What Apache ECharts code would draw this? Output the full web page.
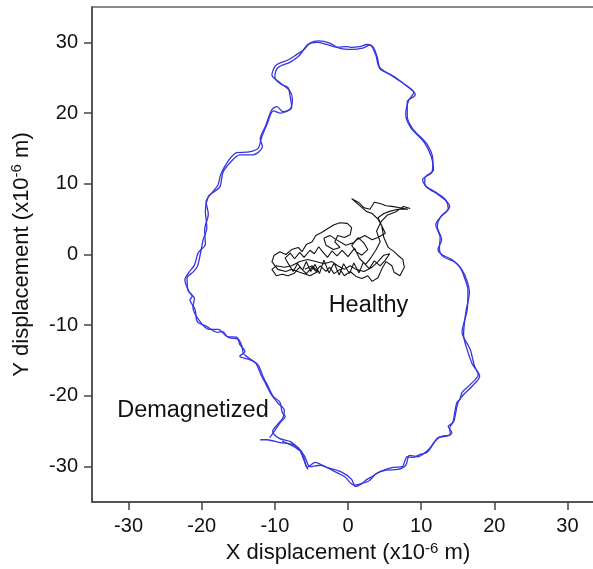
<!DOCTYPE html>
<html>
<head>
<meta charset="utf-8">
<script src="https://cdn.jsdelivr.net/npm/echarts@6/dist/echarts.min.js"></script>
<style>
  html, body { margin: 0; padding: 0; background: #fff; }
  #chart { width: 593px; height: 569px; }
</style>
</head>
<body>
<div id="chart"></div>
<script>
// tick values on both axes
const tickValues = [-30, -20, -10, 0, 10, 20, 30]

// demagnetized trace, first lap (x, y in 1e-6 m)
const demagLap1 = [
  [-12.0,-26.2],[-11.1,-26.2],[-9.3,-26.6],[-7.5,-26.9],[-6.3,-27.9],[-5.9,-29.3],[-5.6,-30.1],[-4.5,-29.4],
  [-2.9,-30.1],[-0.8,-30.8],[0.5,-31.8],[1.0,-32.8],[1.9,-32.4],[2.6,-31.8],[3.3,-31.4],[4.4,-30.7],
  [6.1,-30.1],[7.4,-30.0],[8.1,-28.6],[8.9,-28.7],[9.8,-28.3],[10.8,-28.0],[11.6,-26.9],[12.3,-25.9],
  [13.5,-25.7],[14.2,-25.2],[13.7,-24.3],[14.3,-23.8],[14.6,-22.3],[14.9,-20.9],[15.3,-20.5],[15.6,-19.5],
  [16.7,-18.4],[17.8,-17.0],[17.3,-15.8],[16.7,-13.4],[15.6,-11.0],[16.3,-7.8],[16.4,-5.0],[16.0,-3.5],
  [15.3,-1.8],[14.2,-0.7],[12.8,0],[12.3,0.7],[12.8,2.1],[12.2,4.0],[12.6,5.2],[13.5,6.1],
  [13.9,6.8],[13.5,7.5],[12.3,8.5],[10.8,9.5],[10.2,10.6],[11.5,11.7],[11.6,13.4],[10.8,15.6],
  [8.9,17.7],[8.1,19.5],[8.1,21.6],[9.2,22.6],[8.1,23.8],[6.7,24.8],[5.3,25.7],[4.4,26.2],
  [4.0,27.9],[3.4,29.4],[2.6,29.7],[1.6,29.4],[0.3,29.3],[-0.1,29.4],[-1.5,29.3],[-2.9,29.7],
  [-4.2,30.0],[-5.5,29.7],[-6.3,28.6],[-6.8,28.0],[-7.9,27.2],[-9.6,26.4],[-10.0,25.0],[-9.0,24.0],
  [-8.2,23.6],[-7.9,22.3],[-7.7,20.8],[-8.9,20.2],[-9.7,20.9],[-10.4,20.5],[-11.3,18.1],[-12.0,16.3],
  [-11.7,15.3],[-13.0,14.1],[-14.8,14.1],[-16.1,13.0],[-17.1,11.6],[-17.5,9.6],[-18.4,8.8],[-19.1,8.2],
  [-19.5,6.1],[-19.3,3.8],[-19.8,2.1],[-20.2,0],[-20.6,-1.7],[-21.2,-2.5],[-22.0,-3.3],[-21.9,-5.0],
  [-21.3,-5.9],[-21.6,-6.4],[-20.9,-7.8],[-20.6,-9.5],[-19.3,-10.2],[-17.9,-11.0],[-17.1,-10.9],[-16.5,-11.6],
  [-15.2,-11.7],[-14.8,-12.7],[-14.1,-13.7],[-14.8,-14.4],[-13.4,-14.9],[-12.3,-15.6],[-11.6,-17.3],[-10.9,-18.7],
  [-10.2,-20.1],[-9.3,-20.9],[-9.0,-22.3],[-8.6,-22.9],[-9.3,-23.8],[-10.2,-25.2],[-10.7,-25.9]
]

// demagnetized trace, second lap
const demagLap2 = [
  [-9.0,-26.4],[-7.2,-27.3],[-6.0,-28.4],[-5.2,-30.0],[-3.8,-29.8],[-2.2,-30.5],[-0.5,-31.4],[0.8,-32.6],
  [1.5,-32.5],[2.9,-32.0],[3.8,-31.0],[5.2,-30.5],[6.8,-30.4],[7.9,-29.8],[8.4,-28.4],[9.5,-28.6],
  [11.0,-27.6],[11.9,-26.4],[12.8,-25.7],[14.0,-25.5],[13.9,-24.6],[14.5,-23.5],[14.8,-22.0],[15.1,-20.8],
  [15.8,-19.8],[16.9,-18.7],[18.0,-17.2],[17.0,-15.5],[16.4,-13.8],[15.8,-11.4],[16.1,-8.2],[16.6,-5.3],
  [16.3,-3.8],[15.6,-2.2],[14.5,-1.0],[13.0,-0.3],[12.5,0.9],[12.6,2.4],[12.0,4.2],[12.8,5.5],
  [13.7,6.5],[13.3,7.8],[12.0,8.8],[10.5,9.9],[10.5,10.8],[11.7,12.0],[11.4,13.8],[10.4,15.9],
  [8.6,17.9],[7.9,19.8],[8.3,21.8],[9.0,22.9],[7.8,24.0],[6.4,25.1],[5.0,25.9],[4.2,26.6],
  [3.8,28.2],[3.0,29.6],[2.0,29.2],[0.6,29.0],[-1.0,29.1],[-2.5,29.9],[-4.0,30.2],[-5.2,29.9],
  [-6.0,29.0],[-7.0,28.3],[-8.2,27.5],[-9.8,26.8],[-10.4,25.4],[-9.3,24.3],[-8.0,23.2],[-7.6,22.0],
  [-7.9,20.6],[-9.2,20.0],[-10.2,20.3],[-11.0,18.6],[-11.8,16.6],[-12.3,15.0],[-13.5,14.5],[-15.2,14.4],
  [-16.4,13.2],[-17.4,11.3],[-17.8,9.8],[-18.8,8.5],[-19.4,7.5],[-19.1,5.7],[-19.6,3.5],[-19.5,1.5],
  [-20.5,0.2],[-21.0,-1.5],[-21.8,-2.6],[-22.3,-3.6],[-21.7,-5.3],[-21.0,-6.2],[-21.2,-7.5],[-20.3,-9.4],
  [-19.0,-10.6],[-17.7,-10.6],[-16.9,-11.3],[-16.2,-11.8],[-15.0,-12.0],[-14.5,-13.0],[-14.3,-14.0],[-13.6,-14.6],
  [-12.6,-15.4],[-11.9,-17.0],[-11.2,-18.4],[-10.5,-19.8],[-9.6,-21.0],[-8.7,-22.0],[-8.9,-23.1],[-9.6,-24.0],
  [-10.3,-25.0],[-9.4,-26.0],[-7.8,-26.5],[-6.6,-27.7],[-6.1,-28.9],[-5.5,-30.4]
]

// healthy trace
const healthy = [
  [-5.9,-2.1],[-4.9,-1.6],[-4.1,-2.4],[-5.2,-3.0],[-6.6,-2.5],[-7.7,-2.1],[-8.5,-2.4],[-9.6,-2.1],
  [-10.4,-1.0],[-10.1,-0.1],[-9.3,0.4],[-8.5,0.0],[-7.7,0.7],[-6.8,1.0],[-6.3,0.4],[-5.7,1.4],
  [-4.9,1.8],[-4.4,2.7],[-3.6,3.1],[-2.7,3.7],[-1.9,4.2],[-1.1,4.5],[-0.1,4.4],[0.5,3.8],
  [0.3,2.8],[-0.5,2.4],[-1.4,2.7],[-1.8,1.8],[-1.1,1.0],[-2.0,0.7],[-3.0,1.3],[-3.3,2.3],
  [-2.5,2.7],[-1.6,2.1],[-0.3,1.3],[0.8,1.7],[1.4,2.4],[2.2,1.6],[2.7,0.7],[1.9,-0.1],
  [1.1,0.4],[0.5,1.3],[1.2,2.1],[2.3,2.7],[3.3,2.1],[4.1,2.4],[5.1,3.0],[4.6,4.1],
  [4.1,5.0],[3.3,5.8],[2.5,6.1],[1.6,6.9],[0.5,7.9],[1.4,7.4],[2.2,6.6],[3.0,6.4],
  [3.6,7.4],[4.4,7.2],[5.2,6.9],[6.0,6.8],[7.1,6.6],[8.2,6.4],[6.8,6.4],[5.7,6.1],
  [4.9,5.8],[4.1,5.2],[4.6,4.1],[4.9,2.4],[5.5,1.0],[6.3,0.4],[6.8,-0.1],[7.5,-0.7],
  [7.7,-1.8],[7.1,-3.0],[6.3,-2.5],[6.0,-1.6],[5.2,-1.0],[4.6,-2.1],[4.1,-3.3],[3.3,-3.8],
  [2.7,-3.0],[1.9,-3.4],[1.1,-3.1],[0.3,-2.4],[-0.5,-3.0],[-1.1,-2.1],[-1.9,-2.7],[-2.5,-1.8],
  [-3.0,-2.4],[-3.8,-1.6],[-4.4,-2.4],[-4.9,-1.8],[-5.7,-2.7],[-6.6,-1.8],[-7.4,-2.7],[-8.2,-3.0],
  [-9.0,-2.8],[-9.8,-3.0],[-10.4,-2.1],[-9.8,-1.6],[-8.7,-1.8],[-7.7,-1.6],[-6.6,-1.0],[-5.5,-0.7],
  [-4.4,-1.0],[-3.3,-1.3],[-2.2,-1.0],[-1.4,-1.6],[-0.5,-2.1],[0.3,-1.6],[1.1,-2.1],[2.2,-2.4],
  [3.3,-1.8],[4.1,-1.0],[4.9,-0.1],[5.7,0.1],[5.1,-0.8],[4.4,-1.6],[3.6,-0.9],[2.9,-2.0],
  [2.1,-1.1],[1.5,-2.6],[0.8,-1.2],[0.2,-2.7],[-0.6,-1.3],[-1.2,-2.9],[-1.9,-1.2],[-2.6,-2.6],
  [-3.3,-0.8],[-3.9,-2.7],[-4.5,-1.4],[-5.1,-2.4],[-5.7,-1.0],[-6.2,-2.2],[-6.9,-1.3],[-7.5,-2.4],
  [-8.1,-1.4],[-8.6,-0.5],[-7.9,0.2],[-7.3,-0.6],[-6.6,0.3],[-6.0,-0.4],[-5.2,0.6],[-4.6,0.1],
  [-4.0,1.1],[-3.4,0.3],[-2.8,-0.4],[-2.2,0.5],[-1.5,-0.2],[-0.8,0.6],[0.0,-0.3],[0.9,0.9],
  [1.6,-0.6],[2.4,-1.4],[3.1,-0.5],[3.8,0.6],[4.4,1.8],[3.9,3.3],[4.5,4.6],[5.4,5.6],
  [6.5,6.0],[7.6,6.8],[8.5,6.5]
]

// text annotations placed at data positions
const labels = [
  { name: 'Healthy', value: [2.8, -7.2] },
  { name: 'Demagnetized', value: [-21.2, -22.0] }
]

const chart = echarts.init(document.getElementById('chart'))

const fontFamily = 'Liberation Sans, Arial, sans-serif'
const axisText = { color: '#111', fontSize: 20, fontFamily: fontFamily }
const nameStyle = {
  color: '#111', fontSize: 22, fontFamily: fontFamily,
  rich: { sup: { fontSize: 15, padding: [0, 0, 10, 0], color: '#111', fontFamily: fontFamily } }
}

function makeAxis(name, gap, rotate) {
  return {
    type: 'value',
    min: -35,
    max: 35,
    name: name,
    nameLocation: 'middle',
    nameGap: gap,
    nameRotate: rotate,
    nameTextStyle: nameStyle,
    axisLine: { show: true, onZero: false, lineStyle: { color: '#444', width: 1.5 } },
    axisTick: { show: true, length: 8, customValues: tickValues, lineStyle: { color: '#444', width: 1.5 } },
    axisLabel: Object.assign({ customValues: tickValues, margin: 14 }, axisText),
    splitLine: { show: false }
  }
}

chart.setOption({
  animation: false,
  backgroundColor: '#fff',
  grid: {
    left: 92, top: 7, right: -11, bottom: 67,
    outerBoundsMode: 'none',
    containLabel: false,
    show: true, borderColor: '#666', borderWidth: 1.5
  },
  xAxis: makeAxis('X displacement (x10{sup|-6} m)', 36, 0),
  yAxis: makeAxis('Y displacement (x10{sup|-6} m)', 58, 90),
  series: [
    {
      type: 'line', data: demagLap1, showSymbol: false, smooth: 0.3,
      lineStyle: { color: '#3535e0', width: 1.3 }, z: 2
    },
    {
      type: 'line', data: demagLap2, showSymbol: false, smooth: 0.3,
      lineStyle: { color: '#3535e0', width: 1.3 }, z: 2
    },
    {
      type: 'line', data: healthy, showSymbol: false, smooth: false,
      lineStyle: { color: '#111', width: 1.1 }, z: 3
    },
    {
      type: 'scatter', data: labels, symbolSize: 1,
      itemStyle: { color: 'rgba(0,0,0,0)', opacity: 1 },
      label: {
        show: true, position: 'inside', formatter: '{b}', opacity: 1,
        color: '#111', textBorderWidth: 0, fontSize: 23.5, fontFamily: fontFamily
      }
    }
  ]
})
</script>
</body>
</html>
